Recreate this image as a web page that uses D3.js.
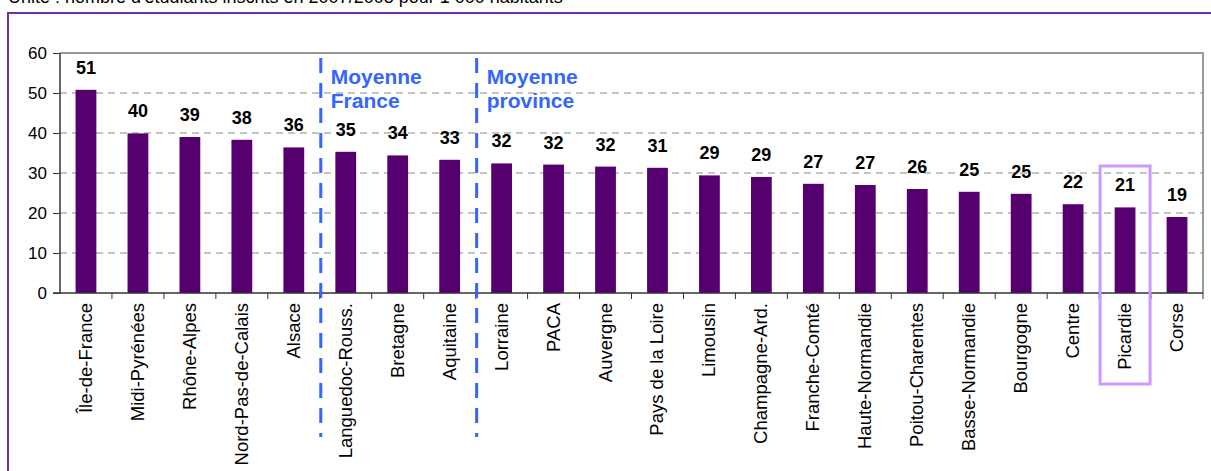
<!DOCTYPE html>
<html>
<head>
<meta charset="utf-8">
<style>
body { margin: 0; background: #fff; }
svg { display: block; font-family: "Liberation Sans", Arial, sans-serif; }
.bar { fill: #560070; stroke: none; }
.grid line { stroke: #888; stroke-dasharray: 7,5; }
.axis path, .axis line { stroke: #333; }
.axis text { font-size: 17px; fill: #000; }
.xlab { font-size: 18.5px; fill: #000; }
.val { font-size: 18px; font-weight: bold; fill: #000; }
.moy { font-size: 21px; font-weight: bold; fill: #3366ff; }
</style>
</head>
<body>
<svg id="chart" width="1211" height="471"></svg>
<script src="https://d3js.org/d3.v7.min.js"></script>
<script>
let regions = ["Île-de-France", "Midi-Pyrénées", "Rhône-Alpes", "Nord-Pas-de-Calais", "Alsace",
    "Languedoc-Rouss.", "Bretagne", "Aquitaine", "Lorraine", "PACA", "Auvergne", "Pays de la Loire",
    "Limousin", "Champagne-Ard.", "Franche-Comté", "Haute-Normandie", "Poitou-Charentes",
    "Basse-Normandie", "Bourgogne", "Centre", "Picardie", "Corse"];
let students = [50.8, 39.9, 39.0, 38.3, 36.4, 35.3, 34.4, 33.3, 32.4, 32.1, 31.6, 31.3,
    29.4, 29.0, 27.3, 27.0, 26.0, 25.3, 24.8, 22.2, 21.4, 19.0];
let yTicks = [0, 10, 20, 30, 40, 50, 60];
// average markers sit before these categories
let averages = [
    {before: "Languedoc-Rouss.", lines: ["Moyenne", "France"]},
    {before: "Lorraine", lines: ["Moyenne", "province"]}
];
let highlighted = "Picardie";
let title = "Unité : nombre d'étudiants inscrits en 2007/2008 pour 1 000 habitants";

let data = regions.map((r, i) => ({region: r, value: students[i]}));

let svg = d3.select("#chart");
let margin = {top: 53, left: 60},
    width = 1143,
    height = 240;

// title (cut off by the top of the picture, as in the source)
svg.append("text")
    .attr("x", 8).attr("y", 3)
    .attr("font-size", 18)
    .text(title);

// outer purple frame
svg.append("rect")
    .attr("x", 8).attr("y", 13)
    .attr("width", 1230).attr("height", 500)
    .attr("fill", "none")
    .attr("stroke", "#7030a0")
    .attr("stroke-width", 2);

let chart = svg.append("g")
    .attr("transform", "translate(" + margin.left + "," + margin.top + ")");

let xScale = d3.scaleBand()
    .domain(regions)
    .range([0, width])
    .paddingInner(0.6)
    .paddingOuter(0.3);
let yScale = d3.scaleLinear()
    .domain([0, 60])
    .range([height, 0]);
let step = xScale.step();
let bandLeft = r => xScale(r) - xScale.paddingInner() * step / 2;

// grid lines
chart.append("g")
    .attr("class", "grid")
    .selectAll("line")
    .data(yTicks.filter(t => t > 0 && t < 60))
    .join("line")
    .attr("x1", 0).attr("x2", width)
    .attr("y1", d => yScale(d)).attr("y2", d => yScale(d));

// top and right border of plot area
chart.append("path")
    .attr("d", "M0," + yScale(60) + "H" + width + "V" + height)
    .attr("fill", "none")
    .attr("stroke", "#999")
    .attr("stroke-width", 2);

// bars
chart.selectAll("rect.bar")
    .data(data)
    .join("rect")
    .attr("class", "bar")
    .attr("x", d => xScale(d.region))
    .attr("y", d => yScale(d.value))
    .attr("width", xScale.bandwidth())
    .attr("height", d => height - yScale(d.value));

// value labels
chart.selectAll("text.val")
    .data(data)
    .join("text")
    .attr("class", "val")
    .attr("x", d => xScale(d.region) + xScale.bandwidth() / 2)
    .attr("y", d => yScale(d.value) - 16)
    .attr("text-anchor", "middle")
    .text(d => Math.round(d.value));

// y axis
chart.append("g")
    .attr("class", "axis")
    .call(d3.axisLeft(yScale).tickValues(yTicks).tickSize(7).tickPadding(6).tickSizeOuter(0))
    .call(g => g.select(".domain").remove())
    .call(g => g.append("line").attr("x1", 0).attr("x2", 0).attr("y1", 0).attr("y2", height).attr("stroke", "#333").attr("stroke-width", 1.5));

// x axis: line with ticks between categories
let xAxis = chart.append("g")
    .attr("transform", "translate(0," + height + ")");
xAxis.append("line")
    .attr("x1", -7).attr("x2", width)
    .attr("stroke", "#333").attr("stroke-width", 1.5);
xAxis.selectAll("line.tk")
    .data(regions.slice(1).concat(["end"]))
    .join("line")
    .attr("class", "tk")
    .attr("x1", (d, i) => (i + 1) * step).attr("x2", (d, i) => (i + 1) * step)
    .attr("y1", 0).attr("y2", 6)
    .attr("stroke", "#333");
xAxis.selectAll("text.xlab")
    .data(regions)
    .join("text")
    .attr("class", "xlab")
    .attr("transform", d => "translate(" + (xScale(d) + xScale.bandwidth() / 2 + 6) + ",10) rotate(-90)")
    .attr("text-anchor", "end")
    .text(d => d);

// average markers
averages.forEach(a => {
    let x = bandLeft(a.before) + 1;
    chart.append("line")
        .attr("x1", x).attr("x2", x)
        .attr("y1", 5).attr("y2", 384)
        .attr("stroke", "#3366ff")
        .attr("stroke-width", 3)
        .attr("stroke-dasharray", "15,10");
    let t = chart.append("text")
        .attr("class", "moy")
        .attr("x", x + 10)
        .attr("y", 31);
    a.lines.forEach((l, i) => {
        t.append("tspan").attr("x", x + 10).attr("dy", i ? 24 : 0).text(l);
    });
});

// highlight box
let hx = bandLeft(highlighted);
chart.append("rect")
    .attr("x", hx + 1).attr("y", 113)
    .attr("width", step - 2).attr("height", 218)
    .attr("fill", "none")
    .attr("stroke", "#cc99ff")
    .attr("stroke-width", 3);
</script>
</body>
</html>
